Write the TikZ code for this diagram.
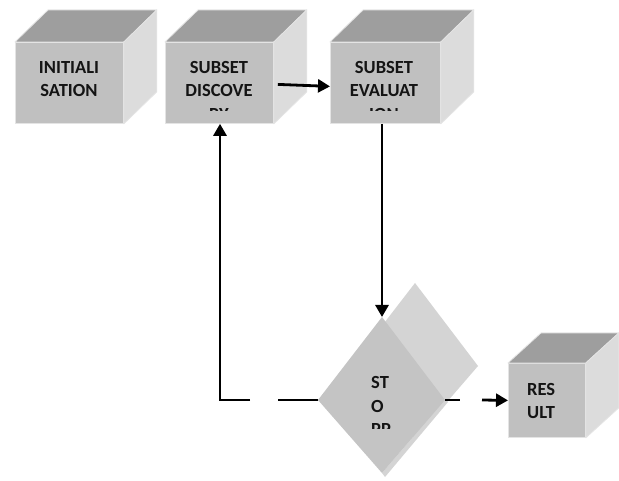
\documentclass[tikz,border=0pt]{standalone}
\usepackage{fontspec}
\setmainfont{Carlito}
\usetikzlibrary{arrows.meta}
\definecolor{frontc}{HTML}{C0C0C0}
\definecolor{topc}{HTML}{9E9E9E}
\definecolor{sidec}{HTML}{DCDCDC}
\definecolor{dfront}{HTML}{C4C4C4}
\definecolor{dback}{HTML}{D4D4D4}
\definecolor{txtc}{HTML}{141414}
\definecolor{halo}{HTML}{E4E4E4}
\tikzset{
  front/.style={fill=frontc, draw=halo, line width=0.8pt, inner sep=0pt, anchor=north west},
  topface/.style={fill=topc, draw=halo, line width=0.8pt, line join=round},
  sideface/.style={fill=sidec, draw=halo, line width=0.8pt, line join=round},
  txt/.style={font=\fontsize{18.5}{23}\selectfont\bfseries, text=txtc, inner sep=0pt, anchor=base},
  txtl/.style={txt, anchor=base west},
  conn/.style={line width=2.8pt, draw=black, line join=miter},
  arr/.style={conn, -{Triangle[length=12pt,width=13pt]}}
}
\begin{document}
\begin{tikzpicture}[x=1pt,y=-1pt]
\useasboundingbox (0,0) rectangle (619,481);
\fill[white] (0,0) rectangle (619,481);

% ---------- cubes (front faces as nodes) ----------
\node[front, minimum width=108pt, minimum height=81pt] (c1) at (15,42) {};
\node[front, minimum width=108pt, minimum height=81pt] (c2) at (165,42) {};
\node[front, minimum width=110pt, minimum height=81pt] (c3) at (330,42) {};
\node[front, minimum width=77pt, minimum height=74pt] (res) at (508,363) {};

\foreach \c/\dx/\dy in {c1/33/-32, c2/33/-32, c3/33/-32, res/33/-30}{
  \draw[topface] (\c.north west) -- ++(\dx,\dy) -- ([shift={(\dx,\dy)}]\c.north east) -- (\c.north east) -- cycle;
  \draw[sideface] (\c.north east) -- ++(\dx,\dy) -- ([shift={(\dx,\dy)}]\c.south east) -- (\c.south east) -- cycle;
}

% ---------- decision diamond ----------
\coordinate (dtop) at (382,317);
\coordinate (dleft) at (318,400);
\coordinate (dright) at (445,400);
\coordinate (dbot) at (382,473);
\coordinate (stop) at (382,400);
\fill[dback] ([shift={(33,-34)}]dtop) -- ([shift={(33,-34)}]dright) -- ([shift={(33,-34)}]dbot) -- ([shift={(33,-34)}]dleft) -- cycle;
\fill[dback] (dright) -- ([shift={(3,2)}]dright) -- ([shift={(3,4)}]dbot) -- (dbot) -- cycle;
\fill[dfront] (dtop) -- (dright) -- (dbot) -- (dleft) -- cycle;

% ---------- texts ----------
\node[txt] (t1a) at (69,73.5) {INITIALI};
\node[txt] (t1b) at (69,97) {SATION};

\begin{scope}
  \clip (165,42) rectangle (273,110.5);
  \node[txt] (t2a) at (219,73.5) {SUBSET};
  \node[txt] (t2b) at (219,97) {DISCOVE};
  \node[txt] (t2c) at (219,120.5) {RY};
\end{scope}

\begin{scope}
  \clip (330,42) rectangle (440,110.5);
  \node[txt] (t3a) at (384,73.5) {SUBSET};
  \node[txt] (t3b) at (384,97) {EVALUAT};
  \node[txt] (t3c) at (384,120.5) {ION};
\end{scope}

\node[txtl] (t4a) at (527,395) {RES};
\node[txtl] (t4b) at (527,418) {ULT};

\begin{scope}
  \clip (340,360) rectangle (420,428.5);
  \node[txtl] (t5a) at (371,388.3) {ST};
  \node[txtl] (t5b) at (371,412) {O};
  \node[txtl] (t5c) at (371,435.5) {PP};
\end{scope}

% ---------- connectors ----------
\draw[arr] ([shift={(4,1.5)}]c2.east) -- ([yshift=-3.5pt]c3.west);
\draw[arr] (c3.south -| dtop) -- (dtop);

\coordinate (fbA) at (278,400);
\coordinate (fbB) at (250,400);
\coordinate (fbcorner) at (220,400);
\draw[conn] (dleft) -- (fbA);
\draw[arr] (fbB) -- (fbcorner) -- (c2.south -| fbcorner);

\coordinate (rA) at (460,400);
\coordinate (rB) at (482,400);
\draw[conn] (dright) -- (rA);
\draw[arr] (rB) -- (res.west);
\end{tikzpicture}
\end{document}
